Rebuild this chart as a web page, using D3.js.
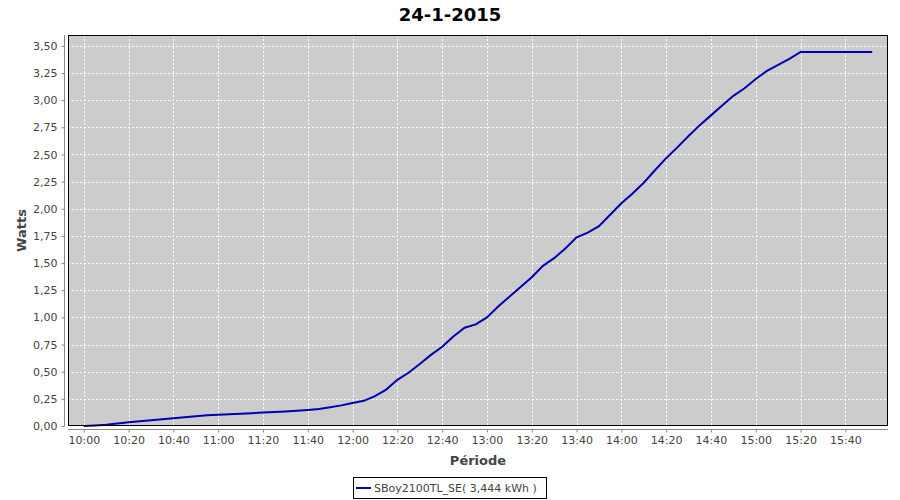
<!DOCTYPE html>
<html>
<head>
<meta charset="utf-8">
<script src="https://cdn.jsdelivr.net/npm/d3@7"></script>
<style>
  body { margin: 0; background: #fff; }
  svg { display: block; }
</style>
</head>
<body>
<svg id="chart" width="900" height="500"></svg>
<script>
const title = "24-1-2015";
const yLabel = "Watts";
const xLabel = "Période";
const seriesName = "SBoy2100TL_SE( 3,444 kWh )";

const times = [
  "10:00","10:05","10:10","10:15","10:20","10:25","10:30","10:35","10:40","10:45",
  "10:50","10:55","11:00","11:05","11:10","11:15","11:20","11:25","11:30","11:35",
  "11:40","11:45","11:50","11:55","12:00","12:05","12:10","12:15","12:20","12:25",
  "12:30","12:35","12:40","12:45","12:50","12:55","13:00","13:05","13:10","13:15",
  "13:20","13:25","13:30","13:35","13:40","13:45","13:50","13:55","14:00","14:05",
  "14:10","14:15","14:20","14:25","14:30","14:35","14:40","14:45","14:50","14:55",
  "15:00","15:05","15:10","15:15","15:20","15:25","15:30","15:35","15:40","15:45",
  "15:50","15:52"
];
const values = [
  0.000,0.005,0.012,0.022,0.034,0.044,0.053,0.062,0.071,0.080,
  0.090,0.098,0.104,0.108,0.112,0.118,0.124,0.128,0.133,0.140,
  0.148,0.157,0.172,0.190,0.212,0.232,0.275,0.335,0.425,0.490,
  0.570,0.655,0.730,0.825,0.905,0.935,1.000,1.100,1.190,1.280,
  1.370,1.475,1.545,1.635,1.738,1.780,1.840,1.945,2.050,2.140,
  2.240,2.355,2.466,2.565,2.670,2.770,2.860,2.950,3.040,3.110,
  3.195,3.270,3.325,3.380,3.444,3.444,3.444,3.444,3.444,3.444,
  3.444,3.444
];
const yTicks = [0,0.25,0.5,0.75,1,1.25,1.5,1.75,2,2.25,2.5,2.75,3,3.25,3.5];
const xTicks = ["10:00","10:20","10:40","11:00","11:20","11:40","12:00","12:20","12:40","13:00","13:20","13:40","14:00","14:20","14:40","15:00","15:20","15:40"];

const parse = d3.timeParse("%H:%M");
const data = times.map((t, i) => ({ t: parse(t), v: values[i] }));

const svg = d3.select("#chart");
const L = 68, R = 888, T = 35, B = 426;

const t0 = parse("10:00"), t1 = parse("15:52");
const span = t1 - t0;
const x = d3.scaleTime()
  .domain([new Date(+t0 - span * 0.02), new Date(+t1 + span * 0.02)])
  .range([L, R]);
const y = d3.scaleLinear().domain([0, 3.6]).range([B, T]);

const fmt = v => d3.format(".2f")(v).replace(".", ",");
const fontTick = "'DejaVu Sans', sans-serif";

// plot background
svg.append("rect").attr("x", L).attr("y", T).attr("width", R - L).attr("height", B - T)
  .attr("fill", "#cccccc");

// grid
const g = svg.append("g");
g.selectAll("line.h").data(yTicks).join("line")
  .attr("x1", L).attr("x2", R)
  .attr("y1", d => Math.round(y(d)) + 0.5).attr("y2", d => Math.round(y(d)) + 0.5)
  .attr("stroke", "#fff").attr("stroke-dasharray", "2,2").attr("stroke-width", 1);
g.selectAll("line.v").data(xTicks).join("line")
  .attr("y1", T).attr("y2", B)
  .attr("x1", d => Math.round(x(parse(d))) + 0.5).attr("x2", d => Math.round(x(parse(d))) + 0.5)
  .attr("stroke", "#fff").attr("stroke-dasharray", "2,2").attr("stroke-width", 1);

// line
svg.append("path").datum(data)
  .attr("fill", "none").attr("stroke", "#0000b4").attr("stroke-width", 2)
  .attr("d", d3.line().x(d => x(d.t)).y(d => y(d.v)));

// plot border
svg.append("rect").attr("x", L + 0.5).attr("y", T + 0.5).attr("width", R - L - 1).attr("height", B - T - 1)
  .attr("fill", "none").attr("stroke", "#000").attr("stroke-width", 1);

// y axis
const yAxis = d3.axisLeft(y).tickValues(yTicks).tickFormat(fmt).tickSize(3).tickPadding(4);
const ya = svg.append("g").attr("transform", "translate(64.5,0)").call(yAxis);
ya.select(".domain").attr("stroke", "#888").attr("d", `M0,${T}V${B}`);
ya.selectAll(".tick line").attr("stroke", "#888");
ya.selectAll(".tick text").attr("fill", "#444").style("font-family", fontTick).style("font-size", "11px");

// x axis
const xAxis = d3.axisBottom(x).tickValues(xTicks.map(parse)).tickFormat(d3.timeFormat("%H:%M")).tickSize(3).tickPadding(4);
const xa = svg.append("g").attr("transform", "translate(0,429.5)").call(xAxis);
xa.select(".domain").attr("stroke", "#888").attr("d", `M${L},0H${R}`);
xa.selectAll(".tick line").attr("stroke", "#888");
xa.selectAll(".tick text").attr("fill", "#444").style("font-family", fontTick).style("font-size", "11px");

// title
svg.append("text").attr("x", 450).attr("y", 21).attr("text-anchor", "middle")
  .style("font-family", fontTick).style("font-weight", "bold").style("font-size", "18px")
  .attr("fill", "#000").text(title);

// axis labels
svg.append("text").attr("transform", `translate(26,${(T + B) / 2}) rotate(-90)`)
  .attr("text-anchor", "middle")
  .style("font-family", fontTick).style("font-weight", "bold").style("font-size", "13px")
  .attr("fill", "#444").text(yLabel);
svg.append("text").attr("x", (L + R) / 2).attr("y", 465).attr("text-anchor", "middle")
  .style("font-family", fontTick).style("font-weight", "bold").style("font-size", "13px")
  .attr("fill", "#444").text(xLabel);

// legend
const lg = svg.append("g");
lg.append("rect").attr("x", 353.5).attr("y", 477.5).attr("width", 193).attr("height", 21)
  .attr("fill", "#fff").attr("stroke", "#000");
lg.append("line").attr("x1", 356).attr("x2", 371).attr("y1", 488).attr("y2", 488)
  .attr("stroke", "#0000b4").attr("stroke-width", 2);
lg.append("text").attr("x", 374).attr("y", 492)
  .style("font-family", fontTick).style("font-size", "11px")
  .attr("fill", "#444").text(seriesName);
</script>
</body>
</html>
